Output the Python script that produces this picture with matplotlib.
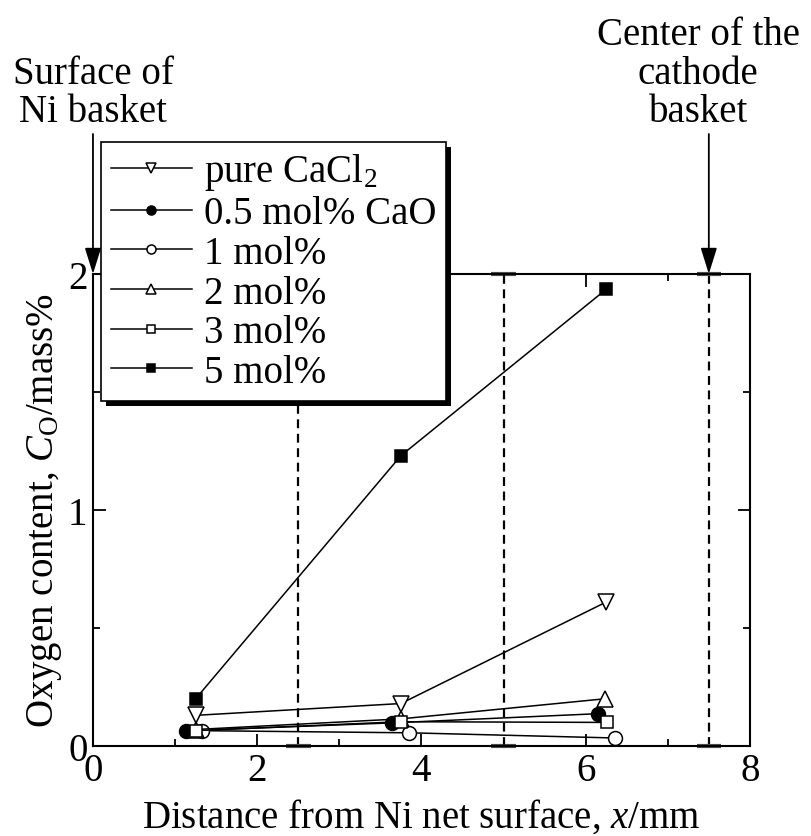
import matplotlib
matplotlib.use("Agg")
import matplotlib.pyplot as plt
from matplotlib.patches import Rectangle
from matplotlib.transforms import IdentityTransform
from matplotlib.ticker import MultipleLocator

plt.rcParams['font.family'] = ['Liberation Serif', 'DejaVu Serif']
plt.rcParams['mathtext.fontset'] = 'custom'
plt.rcParams['mathtext.rm'] = 'Liberation Serif'
plt.rcParams['mathtext.it'] = 'Liberation Serif:italic'

# data
labels = ['pure CaCl$_2$', '0.5 mol% CaO', '1 mol%', '2 mol%', '3 mol%', '5 mol%']
x_pure = [1.25, 3.75, 6.25]
y_pure = [0.13, 0.18, 0.61]
x_cao05 = [1.13, 3.64, 6.15]
y_cao05 = [0.065, 0.098, 0.137]
x_cao1 = [1.33, 3.85, 6.36]
y_cao1 = [0.065, 0.056, 0.034]
x_cao2 = [1.25, 3.75, 6.23]
y_cao2 = [0.07, 0.115, 0.20]
x_cao3 = [1.25, 3.75, 6.26]
y_cao3 = [0.065, 0.103, 0.10]
x_cao5 = [1.25, 3.75, 6.25]
y_cao5 = [0.20, 1.23, 1.935]
boundaries = [2.5, 5.0, 7.5]

series = [
    (x_pure, y_pure, 'v', 'white', 11),
    (x_cao05, y_cao05, 'o', 'black', 10),
    (x_cao1, y_cao1, 'o', 'white', 10),
    (x_cao2, y_cao2, '^', 'white', 11),
    (x_cao3, y_cao3, 's', 'white', 9),
    (x_cao5, y_cao5, 's', 'black', 9),
]

fig = plt.figure(figsize=(8.12, 8.37), dpi=100)
ax = fig.add_axes([0.1145, 0.1075, 0.809, 0.564])

for xb in boundaries:
    ax.plot([xb, xb], [0, 2], ls=(0, (4, 2.5)), color='black', lw=1.6, zorder=1)
    for yb in (0, 2):
        ax.plot([xb - 0.15, xb + 0.15], [yb, yb], color='0.3', lw=3,
                solid_capstyle='butt', clip_on=False, zorder=1)

for (xs, ys, m, fc, ms), lab in zip(series, labels):
    ax.plot(xs, ys, color='black', lw=1.1, marker=m, ms=ms, mfc=fc,
            mec='black', mew=1.1, label=lab, zorder=3)

ax.set_xlim(0, 8)
ax.set_ylim(0, 2)
ax.xaxis.set_major_locator(MultipleLocator(2))
ax.xaxis.set_minor_locator(MultipleLocator(1))
ax.yaxis.set_major_locator(MultipleLocator(1))
ax.yaxis.set_minor_locator(MultipleLocator(0.5))
ax.tick_params(which='both', direction='in', top=True, right=True,
               labelsize=28, width=1.3, pad=4)
ax.tick_params(which='major', length=9)
ax.tick_params(which='minor', length=5)
for sp in ax.spines.values():
    sp.set_linewidth(1.5)

ax.set_xlabel('Distance from Ni net surface, $x$/mm', fontsize=28, labelpad=6)
ax.set_ylabel('Oxygen content, $C_\\mathrm{O}$/mass%', fontsize=28, labelpad=3)

leg = ax.legend(loc='upper left', bbox_to_anchor=(0.012, 1.28), fontsize=28,
                frameon=True, fancybox=False, edgecolor='black', framealpha=1,
                handlelength=2.1, handletextpad=0.3, labelspacing=0.07,
                borderpad=0.25, borderaxespad=0, markerscale=0.65)
leg.get_frame().set_linewidth(1.2)
leg.set_zorder(5)

# heavy drop shadow under the legend box
fig.canvas.draw()
bb = leg.get_frame().get_window_extent(fig.canvas.get_renderer())
ax.add_patch(Rectangle((bb.x0 + 5, bb.y0 - 5), bb.width, bb.height,
                       facecolor='black', edgecolor='none',
                       transform=IdentityTransform(), clip_on=False, zorder=4.9))

# arrows marking the basket surface and centre
for xa in (0, 7.5):
    ax.annotate('', xy=(xa, 2), xytext=(xa, 2.593), annotation_clip=False,
                arrowprops=dict(arrowstyle='-|>,head_length=0.8,head_width=0.25',
                                mutation_scale=20, lw=1.3, color='black',
                                shrinkA=0, shrinkB=0))
ax.text(0, 2.61, 'Surface of\nNi basket', ha='center', va='bottom',
        fontsize=28, linespacing=1.05, clip_on=False)
ax.text(7.37, 2.61, 'Center of the\ncathode\nbasket', ha='center', va='bottom',
        fontsize=28, linespacing=1.05, clip_on=False)

fig.savefig('out.png', dpi=100)
